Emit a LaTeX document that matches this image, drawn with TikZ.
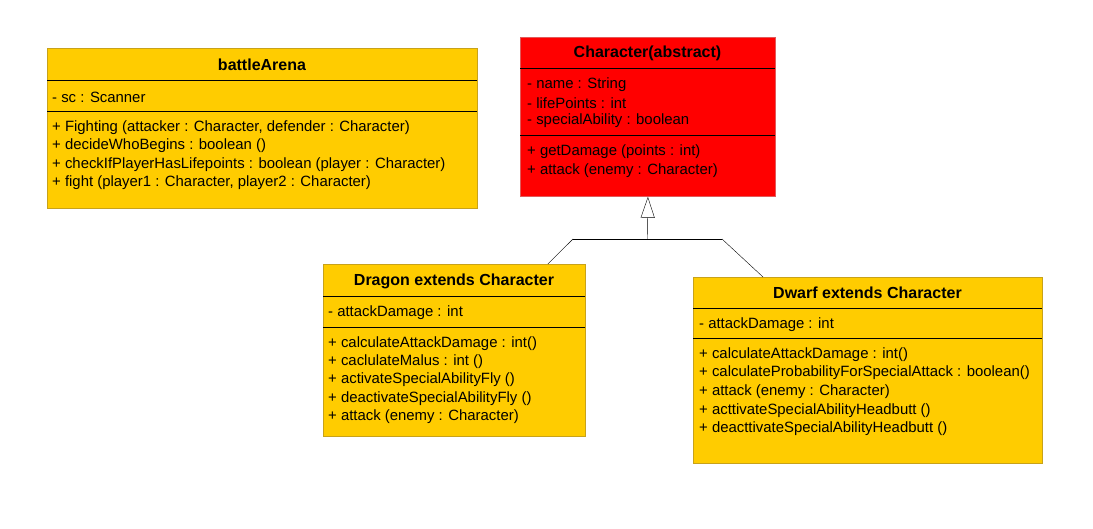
\documentclass[tikz,border=0pt]{standalone}
\usepackage{fontspec}
\setmainfont{Liberation Sans}
\usetikzlibrary{arrows.meta}
\definecolor{umlyellow}{RGB}{255,204,0}
\definecolor{umlyellowedge}{RGB}{200,162,26}
\definecolor{umlred}{RGB}{255,0,0}
\definecolor{umlrededge}{RGB}{225,90,90}
\begin{document}
\begin{tikzpicture}[x=1pt,y=-1pt,
      cls/.style={draw=umlyellowedge,fill=umlyellow,line width=0.8pt,anchor=north west,inner sep=0pt},
      abs/.style={cls,draw=umlrededge,fill=umlred},
      ttl/.style={font=\fontsize{16}{18}\selectfont\bfseries,inner sep=0pt},
      mbr/.style={font=\fontsize{14.9}{17}\selectfont,anchor=west,inner sep=0pt},
      sep/.style={line width=0.8pt}]
      \useasboundingbox (0,0) rectangle (1093,528);
      % class boxes
      \node[cls,minimum width=430pt,minimum height=160pt] (arena) at (47,48) {};
      \node[abs,minimum width=255pt,minimum height=159pt] (chr) at (520,37) {};
      \node[cls,minimum width=262pt,minimum height=172pt] (drg) at (323,264) {};
      \node[cls,minimum width=349pt,minimum height=186pt] (dwf) at (693,277) {};
      % battleArena
      \node[ttl] (arena-t) at (262,65) {battleArena};
      \draw[sep] (47,80) -- (477,80);
      \node[mbr] (arena-a1) at (52,97) {- sc : Scanner};
      \draw[sep] (47,111) -- (477,111);
      \node[mbr] (arena-m1) at (52,128) {+ Fighting (attacker : Character, defender : Character)};
      \node[mbr] (arena-m2) at (52,146) {+ decideWhoBegins : boolean ()};
      \node[mbr] (arena-m3) at (52,165) {+ checkIfPlayerHasLifepoints : boolean (player : Character)};
      \node[mbr] (arena-m4) at (52,183) {+ fight (player1 : Character, player2 : Character)};
      % Character
      \node[ttl] (chr-t) at (647.5,53) {Character(abstract)};
      \draw[sep] (520,68) -- (775,68);
      \node[mbr] (chr-a1) at (527,85) {- name : String};
      \node[mbr] (chr-a2) at (527,103) {- lifePoints : int};
      \node[mbr] (chr-a3) at (527,121) {- specialAbility : boolean};
      \draw[sep] (520,135) -- (775,135);
      \node[mbr] (chr-m1) at (527,152) {+ getDamage (points : int)};
      \node[mbr] (chr-m2) at (527,171) {+ attack (enemy : Character)};
      % Dragon
      \node[ttl] (drg-t) at (454,281) {Dragon extends Character};
      \draw[sep] (323,296) -- (585,296);
      \node[mbr] (drg-a1) at (328,313) {- attackDamage : int};
      \draw[sep] (323,327) -- (585,327);
      \node[mbr] (drg-m1) at (328,344) {+ calculateAttackDamage : int()};
      \node[mbr] (drg-m2) at (328,362) {+ caclulateMalus : int ()};
      \node[mbr] (drg-m3) at (328,380) {+ activateSpecialAbilityFly ()};
      \node[mbr] (drg-m4) at (328,399) {+ deactivateSpecialAbilityFly ()};
      \node[mbr] (drg-m5) at (328,417) {+ attack (enemy : Character)};
      % Dwarf
      \node[ttl] (dwf-t) at (867.5,293) {Dwarf extends Character};
      \draw[sep] (693,308) -- (1042,308);
      \node[mbr] (dwf-a1) at (699,325) {- attackDamage : int};
      \draw[sep] (693,338) -- (1042,338);
      \node[mbr] (dwf-m1) at (699,355) {+ calculateAttackDamage : int()};
      \node[mbr] (dwf-m2) at (699,373) {+ calculateProbabilityForSpecialAttack : boolean()};
      \node[mbr] (dwf-m3) at (699,392) {+ attack (enemy : Character)};
      \node[mbr] (dwf-m4) at (699,411) {+ acttivateSpecialAbilityHeadbutt ()};
      \node[mbr] (dwf-m5) at (699,429) {+ deacttivateSpecialAbilityHeadbutt ()};
      % inheritance
      \coordinate (fork) at (647.5,239);
      \coordinate (lbend) at (573,239);
      \coordinate (rbend) at (722,239);
      \draw[-{Triangle[open,length=21pt,width=14pt]}] (fork) -- (chr.south);
      \draw (lbend) -- (rbend);
      \draw (lbend) -- ([xshift=-38pt]drg.north east);
      \draw (rbend) -- ([xshift=70pt]dwf.north west);
\end{tikzpicture}
\end{document}
